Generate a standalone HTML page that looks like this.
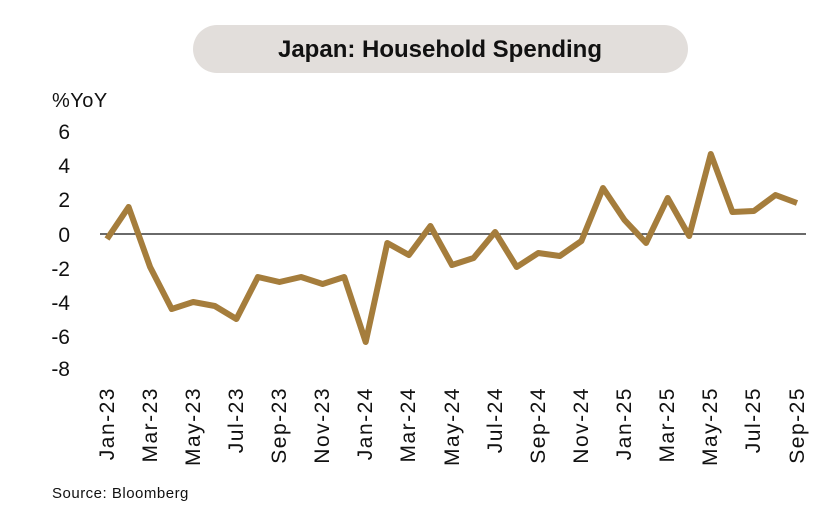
<!DOCTYPE html>
<html><head><style>
body{margin:0;background:#fff;}
svg{display:block;font-family:"Liberation Sans",sans-serif;}
</style></head><body>
<svg width="840" height="520" xmlns="http://www.w3.org/2000/svg">
<rect x="193" y="25" width="495" height="48" rx="24" fill="#e2dedb"/>
<text x="440" y="57" text-anchor="middle" font-size="24" font-weight="bold" fill="#111">Japan: Household Spending</text>
<text x="52" y="107" font-size="20" fill="#111" letter-spacing="0.5">%YoY</text>
<g font-size="21" fill="#111" text-anchor="end">
<text x="70" y="139">6</text>
<text x="70" y="173">4</text>
<text x="70" y="207">2</text>
<text x="70" y="242">0</text>
<text x="70" y="276">-2</text>
<text x="70" y="310">-4</text>
<text x="70" y="344">-6</text>
<text x="70" y="376">-8</text>
</g>
<line x1="100" y1="234" x2="806" y2="234" stroke="#111" stroke-width="1.2"/>
<polyline fill="none" stroke="#a57d3c" stroke-width="6" stroke-linejoin="round" points="
107,239 128.6,207 150.1,267 171.7,309 193.2,302 214.8,306 236.4,319 257.9,277 279.5,282 301.1,277 322.6,284 344.2,277 365.7,342 387.3,243 408.9,255 430.4,226 452,265 473.6,258 495.1,232 516.7,267 538.3,253 559.8,256 581.4,241 603,188 624.5,220 646.1,243 667.7,198 689.2,236 710.8,154 732.4,212 753.9,211 775.5,195 797,203"/>
<g font-size="21" fill="#111" text-anchor="end" letter-spacing="1.5">
<text transform="translate(114,387) rotate(-90)">Jan-23</text>
<text transform="translate(157,387) rotate(-90)">Mar-23</text>
<text transform="translate(200,387) rotate(-90)">May-23</text>
<text transform="translate(243,387) rotate(-90)">Jul-23</text>
<text transform="translate(286,387) rotate(-90)">Sep-23</text>
<text transform="translate(329,387) rotate(-90)">Nov-23</text>
<text transform="translate(372,387) rotate(-90)">Jan-24</text>
<text transform="translate(415,387) rotate(-90)">Mar-24</text>
<text transform="translate(459,387) rotate(-90)">May-24</text>
<text transform="translate(502,387) rotate(-90)">Jul-24</text>
<text transform="translate(545,387) rotate(-90)">Sep-24</text>
<text transform="translate(588,387) rotate(-90)">Nov-24</text>
<text transform="translate(631,387) rotate(-90)">Jan-25</text>
<text transform="translate(674,387) rotate(-90)">Mar-25</text>
<text transform="translate(717,387) rotate(-90)">May-25</text>
<text transform="translate(760,387) rotate(-90)">Jul-25</text>
<text transform="translate(804,387) rotate(-90)">Sep-25</text>
</g>
<text x="52" y="498" font-size="15" fill="#111" letter-spacing="0.5">Source: Bloomberg</text>
</svg>
</body></html>
